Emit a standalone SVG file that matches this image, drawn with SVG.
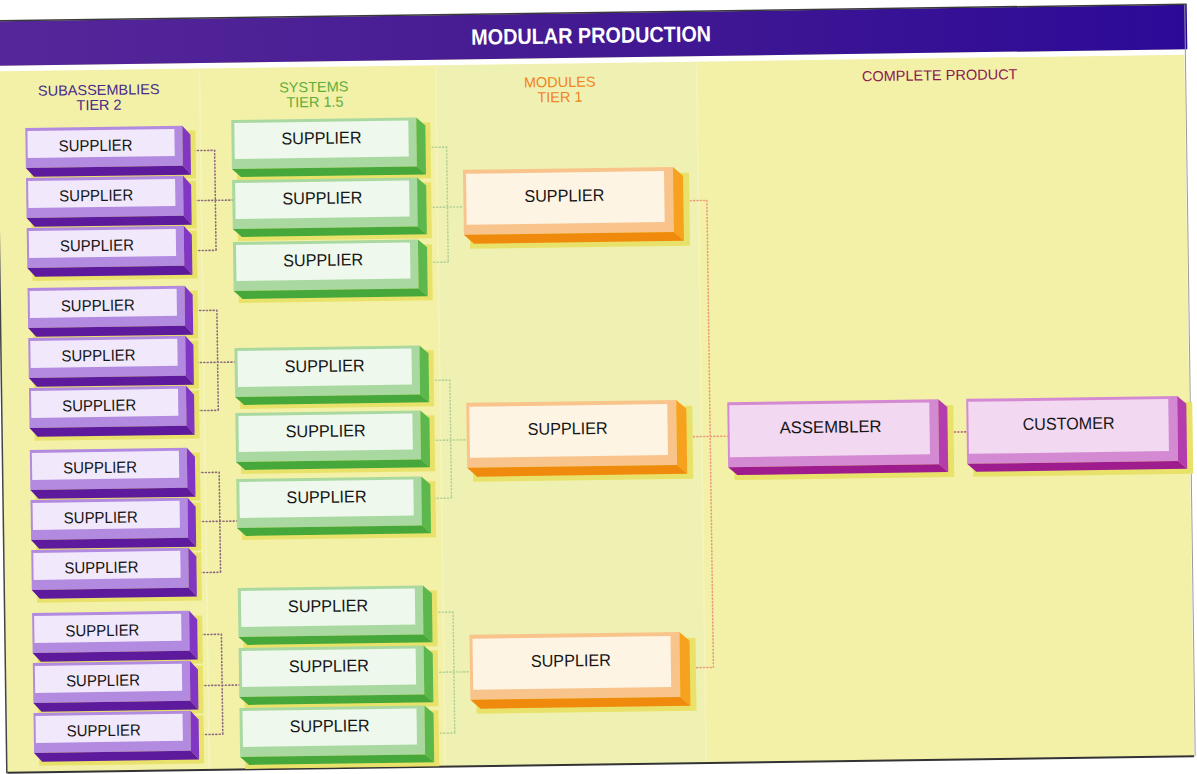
<svg xmlns="http://www.w3.org/2000/svg" xmlns:xlink="http://www.w3.org/1999/xlink" width="1197" height="774" viewBox="0 0 1197 774">
<style>
.pf{fill:#b28ae0}.pi{fill:#f1e9fb}.ps{fill:#8236c4}.pb{fill:#5e1a9c}
.gf{fill:#a9d9a0}.gi{fill:#eef8ec}.gs{fill:#5cb84c}.gb{fill:#46a83a}
.of{fill:#f8c48c}.oi{fill:#fdf4e4}.os{fill:#f7a21e}.ob{fill:#f08a0c}
.mf{fill:#d48ad2}.mi{fill:#f3d8f1}.ms{fill:#b43cac}.mb{fill:#9e1c8e}
.sh{fill:#e9e26a}
.lbl{font-family:"Liberation Sans",Arial,sans-serif;font-size:17px;fill:#151515;text-anchor:middle}
.lp{font-size:16px}
.hd{font-family:"Liberation Sans",Arial,sans-serif;font-size:14.5px;text-anchor:middle}
.cp{fill:none;stroke:#8c6a7c;stroke-width:1.6;stroke-dasharray:1 2.4;stroke-linecap:round}
.cg{fill:none;stroke:#b4d296;stroke-width:1.6;stroke-dasharray:1 2.4;stroke-linecap:round}
.co{fill:none;stroke:#eb9c7c;stroke-width:1.6;stroke-dasharray:1 2.4;stroke-linecap:round}
.cm{fill:none;stroke:#a8648a;stroke-width:1.6;stroke-dasharray:1 2.4;stroke-linecap:round}
.sep{stroke:#f6f4bc;stroke-width:1.5}
</style>
<defs>
<linearGradient id="hdrg" x1="0" y1="0" x2="1" y2="0">
<stop offset="0" stop-color="#56279a"/>
<stop offset="0.5" stop-color="#441a92"/>
<stop offset="1" stop-color="#2c0a98"/>
</linearGradient>
<g id="bp">
<rect x="5" y="5" width="165" height="48" class="sh"/>
<rect x="0" y="0" width="157" height="40" class="pf"/>
<rect x="2" y="3" width="147" height="27" class="pi"/>
<polygon points="157,0 165,9 165,49 157,40" class="ps"/>
<polygon points="0,40 157,40 165,49 8,49" class="pb"/>
</g>
<g id="bg">
<rect x="5" y="5" width="194" height="56" class="sh"/>
<rect x="0" y="0" width="185" height="49" class="gf"/>
<rect x="3" y="3" width="174" height="36" class="gi"/>
<polygon points="185,0 194,8 194,57 185,49" class="gs"/>
<polygon points="0,49 185,49 194,57 9,57" class="gb"/>
</g>
<g id="bo">
<rect x="6" y="6" width="220" height="73" class="sh"/>
<rect x="0" y="0" width="210" height="65" class="of"/>
<rect x="3" y="4" width="198" height="51" class="oi"/>
<polygon points="210,0 220,9 220,74 210,65" class="os"/>
<polygon points="0,65 210,65 220,74 10,74" class="ob"/>
</g>
<g id="bm">
<rect x="6" y="6" width="220" height="72" class="sh"/>
<rect x="0" y="0" width="211" height="65" class="mf"/>
<rect x="2" y="3" width="200" height="52" class="mi"/>
<polygon points="211,0 220,8 220,73 211,65" class="ms"/>
<polygon points="0,65 211,65 220,73 9,73" class="mb"/>
</g>
</defs>
<rect x="0" y="0" width="1197" height="774" fill="#ffffff"/>
<g transform="rotate(-0.8 598 387)">
<g id="page">
<rect x="2" y="57" width="1187" height="707" fill="#f3f0a8"/>
<rect x="440" y="63" width="261" height="701" fill="#eff1b2"/>
<line class="sep" x1="204" y1="64" x2="204" y2="763"/>
<line class="sep" x1="440" y1="64" x2="440" y2="763"/>
<line class="sep" x1="701" y1="64" x2="701" y2="763"/>
<rect x="-20" y="57.5" width="1212" height="5.5" fill="#ffffff"/>
<rect x="-20" y="13" width="1212" height="44.5" fill="url(#hdrg)"/>
<line x1="-20" y1="12.5" x2="1192" y2="12.5" stroke="#3a3a3a" stroke-width="1.5"/>
<line x1="2" y1="764.5" x2="1189" y2="764.5" stroke="#333333" stroke-width="2"/>
<line x1="1.5" y1="63" x2="1.5" y2="765" stroke="#444444" stroke-width="1.5"/>
<line x1="1190" y1="13" x2="1190" y2="764" stroke="#9a9a9a" stroke-width="1"/>
</g>
<g id="title">
<text x="596" y="43" font-family="'Liberation Sans',Arial,sans-serif" font-size="22" font-weight="bold" fill="#ffffff" text-anchor="middle" textLength="240" lengthAdjust="spacingAndGlyphs">MODULAR PRODUCTION</text>
</g>
<g id="headings">
<text class="hd" x="103" y="88" fill="#4a2a8a">SUBASSEMBLIES</text>
<text class="hd" x="103" y="103" fill="#4a2a8a">TIER 2</text>
<text class="hd" x="318" y="88" fill="#5fae3c">SYSTEMS</text>
<text class="hd" x="319" y="103" fill="#5fae3c">TIER 1.5</text>
<text class="hd" x="564" y="86.5" fill="#f2841e">MODULES</text>
<text class="hd" x="564" y="101.5" fill="#f2841e">TIER 1</text>
<text class="hd" x="944" y="85" fill="#8a1a50">COMPLETE PRODUCT</text>
</g>
<g id="connectors">
<path class="cp" d="M194 145H218M194 245H218M218 145V245M194 195H235"/>
<path class="cp" d="M194 305H218M194 405H218M218 305V405M194 357H235"/>
<path class="cp" d="M194 467H218M194 567H218M218 467V567M194 516H235"/>
<path class="cp" d="M194 629H218M194 729H218M218 629V729M194 680H235"/>
<path class="cg" d="M429 145H450M429 260H450M450 145V260M429 205H466"/>
<path class="cg" d="M429 378H450M429 496H450M450 378V496M429 438H466"/>
<path class="cg" d="M429 610H450M429 731H450M450 610V731M429 670H466"/>
<path class="co" d="M686 202H709.5M686 669H709.5M709.5 202V669M686 438H727"/>
<path class="cm" d="M947 437H966"/>
</g>
<g id="p1"><use xlink:href="#bp" x="29" y="120"/><text class="lbl lp" x="99" y="144" textLength="74" lengthAdjust="spacingAndGlyphs">SUPPLIER</text></g>
<g id="p2"><use xlink:href="#bp" x="29" y="170"/><text class="lbl lp" x="99" y="194" textLength="74" lengthAdjust="spacingAndGlyphs">SUPPLIER</text></g>
<g id="p3"><use xlink:href="#bp" x="29" y="220"/><text class="lbl lp" x="99" y="244" textLength="74" lengthAdjust="spacingAndGlyphs">SUPPLIER</text></g>
<g id="p4"><use xlink:href="#bp" x="29" y="280"/><text class="lbl lp" x="99" y="304" textLength="74" lengthAdjust="spacingAndGlyphs">SUPPLIER</text></g>
<g id="p5"><use xlink:href="#bp" x="29" y="330"/><text class="lbl lp" x="99" y="354" textLength="74" lengthAdjust="spacingAndGlyphs">SUPPLIER</text></g>
<g id="p6"><use xlink:href="#bp" x="29" y="380"/><text class="lbl lp" x="99" y="404" textLength="74" lengthAdjust="spacingAndGlyphs">SUPPLIER</text></g>
<g id="p7"><use xlink:href="#bp" x="29" y="442"/><text class="lbl lp" x="99" y="466" textLength="74" lengthAdjust="spacingAndGlyphs">SUPPLIER</text></g>
<g id="p8"><use xlink:href="#bp" x="29" y="492"/><text class="lbl lp" x="99" y="516" textLength="74" lengthAdjust="spacingAndGlyphs">SUPPLIER</text></g>
<g id="p9"><use xlink:href="#bp" x="29" y="542"/><text class="lbl lp" x="99" y="566" textLength="74" lengthAdjust="spacingAndGlyphs">SUPPLIER</text></g>
<g id="p10"><use xlink:href="#bp" x="29" y="605"/><text class="lbl lp" x="99" y="629" textLength="74" lengthAdjust="spacingAndGlyphs">SUPPLIER</text></g>
<g id="p11"><use xlink:href="#bp" x="29" y="655"/><text class="lbl lp" x="99" y="679" textLength="74" lengthAdjust="spacingAndGlyphs">SUPPLIER</text></g>
<g id="p12"><use xlink:href="#bp" x="29" y="705"/><text class="lbl lp" x="99" y="729" textLength="74" lengthAdjust="spacingAndGlyphs">SUPPLIER</text></g>
<g id="g1"><use xlink:href="#bg" x="235" y="115"/><text class="lbl" x="325" y="140" textLength="80" lengthAdjust="spacingAndGlyphs">SUPPLIER</text></g>
<g id="g2"><use xlink:href="#bg" x="235" y="175"/><text class="lbl" x="325" y="200" textLength="80" lengthAdjust="spacingAndGlyphs">SUPPLIER</text></g>
<g id="g3"><use xlink:href="#bg" x="235" y="237"/><text class="lbl" x="325" y="262" textLength="80" lengthAdjust="spacingAndGlyphs">SUPPLIER</text></g>
<g id="g4"><use xlink:href="#bg" x="235" y="343"/><text class="lbl" x="325" y="368" textLength="80" lengthAdjust="spacingAndGlyphs">SUPPLIER</text></g>
<g id="g5"><use xlink:href="#bg" x="235" y="408"/><text class="lbl" x="325" y="433" textLength="80" lengthAdjust="spacingAndGlyphs">SUPPLIER</text></g>
<g id="g6"><use xlink:href="#bg" x="235" y="474"/><text class="lbl" x="325" y="499" textLength="80" lengthAdjust="spacingAndGlyphs">SUPPLIER</text></g>
<g id="g7"><use xlink:href="#bg" x="235" y="583"/><text class="lbl" x="325" y="608" textLength="80" lengthAdjust="spacingAndGlyphs">SUPPLIER</text></g>
<g id="g8"><use xlink:href="#bg" x="235" y="643"/><text class="lbl" x="325" y="668" textLength="80" lengthAdjust="spacingAndGlyphs">SUPPLIER</text></g>
<g id="g9"><use xlink:href="#bg" x="235" y="703"/><text class="lbl" x="325" y="728" textLength="80" lengthAdjust="spacingAndGlyphs">SUPPLIER</text></g>
<g id="o1"><use xlink:href="#bo" x="466" y="168"/><text class="lbl" x="567" y="201" textLength="80" lengthAdjust="spacingAndGlyphs">SUPPLIER</text></g>
<g id="o2"><use xlink:href="#bo" x="466" y="401"/><text class="lbl" x="567" y="434" textLength="80" lengthAdjust="spacingAndGlyphs">SUPPLIER</text></g>
<g id="o3"><use xlink:href="#bo" x="466" y="633"/><text class="lbl" x="567" y="666" textLength="80" lengthAdjust="spacingAndGlyphs">SUPPLIER</text></g>
<g id="assembler"><use xlink:href="#bm" x="727" y="404"/><text class="lbl" x="830" y="436" textLength="102" lengthAdjust="spacingAndGlyphs">ASSEMBLER</text></g>
<g id="customer"><use xlink:href="#bm" x="966" y="404"/><text class="lbl" x="1068" y="436" textLength="92" lengthAdjust="spacingAndGlyphs">CUSTOMER</text></g>
</g>
</svg>
